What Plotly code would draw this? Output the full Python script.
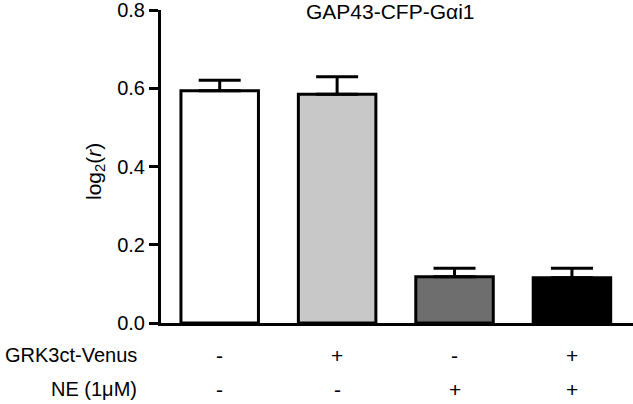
import plotly.graph_objects as go

groups = ["ctrl", "grk", "ne", "grk_ne"]
means = [0.594, 0.585, 0.118, 0.116]
sems = [0.027, 0.045, 0.022, 0.024]
fills = ["white", "#c8c8c8", "#6e6e6e", "black"]
grk_row = ["-", "+", "-", "+"]
ne_row = ["-", "-", "+", "+"]
yticks = [0.0, 0.2, 0.4, 0.6, 0.8]

FONT = "Liberation Sans, Arial, Helvetica, sans-serif"
W, H = 633, 404
ML, MR, MT, MB = 161, 0, 10, 81
pw, ph = W - ML - MR, H - MT - MB
FS = 21

fig = go.Figure()
fig.add_trace(go.Bar(
    x=list(range(len(groups))), y=means, width=0.66,
    marker=dict(color=fills, line=dict(color="black", width=3)),
    error_y=dict(type="data", array=sems, arrayminus=[0] * len(sems), symmetric=False,
                 color="black", thickness=3, width=21),
))

def px_x(p):
    return (p - ML) / pw

def px_y(p):
    return (H - MB - p) / ph

ann = []
for i in range(len(groups)):
    ann.append(dict(x=i, y=px_y(355), xref="x", yref="paper", text=grk_row[i],
                    xanchor="center", yanchor="middle", showarrow=False, font=dict(size=FS)))
    ann.append(dict(x=i, y=px_y(389), xref="x", yref="paper", text=ne_row[i],
                    xanchor="center", yanchor="middle", showarrow=False, font=dict(size=FS)))
ann.append(dict(x=px_x(139), y=px_y(355), xref="paper", yref="paper", text="GRK3ct-Venus",
                xanchor="right", yanchor="middle", showarrow=False, font=dict(size=20)))
ann.append(dict(x=px_x(139), y=px_y(389), xref="paper", yref="paper", text="NE (1\u03bcM)",
                xanchor="right", yanchor="middle", showarrow=False, font=dict(size=20)))
ann.append(dict(x=px_x(95), y=px_y(172), xref="paper", yref="paper",
                text="log<sub>2</sub>(<i>r</i>)", textangle=-90,
                xanchor="center", yanchor="middle", showarrow=False, font=dict(size=FS)))
ann.append(dict(x=px_x(390), y=px_y(12), xref="paper", yref="paper",
                text="GAP43-CFP-G\u03b1i1", xanchor="center", yanchor="middle",
                showarrow=False, font=dict(size=FS)))

fig.update_layout(
    width=W, height=H,
    margin=dict(l=ML, r=MR, t=MT, b=MB),
    plot_bgcolor="white", paper_bgcolor="white",
    font=dict(family=FONT, color="black"),
    showlegend=False,
    annotations=ann,
    xaxis=dict(range=[-0.5, 3.52], showticklabels=False, ticks="", showgrid=False,
               zeroline=False, showline=True, linecolor="black", linewidth=3),
    yaxis=dict(range=[0, 0.8005], tickvals=yticks, tickformat=".1f", ticks="outside",
               ticklen=9, tickwidth=3, tickcolor="black", showgrid=False, zeroline=False,
               showline=True, linecolor="black", linewidth=3,
               ticklabeloverflow="allow", tickfont=dict(size=20)),
)

# page has a default 8px body margin; drop it so the figure sits at 0,0
fig.write_html("out.html", config={"displayModeBar": False},
               post_script="document.body.style.margin='0';")
